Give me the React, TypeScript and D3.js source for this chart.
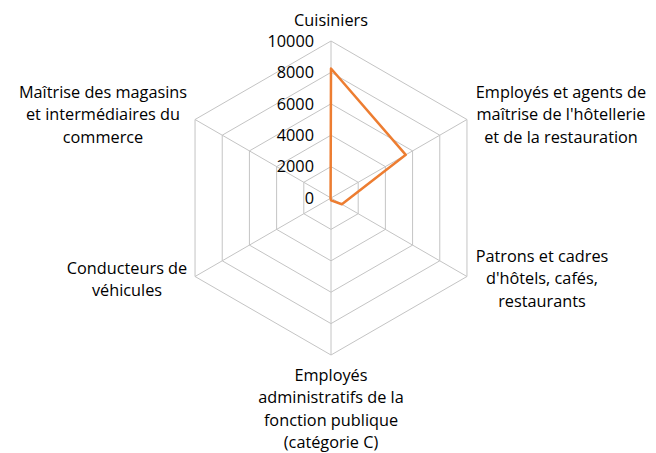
import React from "react";
import * as d3 from "d3";

const categories = [
  ["Cuisiniers"],
  ["Employés et agents de", "maîtrise de l'hôtellerie", "et de la restauration"],
  ["Patrons et cadres", "d'hôtels, cafés,", "restaurants"],
  ["Employés", "administratifs de la", "fonction publique", "(catégorie C)"],
  ["Conducteurs de", "véhicules"],
  ["Maîtrise des magasins", "et intermédiaires du", "commerce"],
];
const values = [8250, 5500, 800, 150, 30, 30];
const ticks = [0, 2000, 4000, 6000, 8000, 10000];

const W = 656, H = 453;
const cx = 331, cy = 198, R = 157;
const font = "'Open Sans', sans-serif";
const fs = 16.3;

// label anchor centers (x, first line center y)
const labelPos: [number, number][] = [
  [331, 20],
  [561, 92],
  [542, 256],
  [331, 375],
  [127, 268],
  [103, 92],
];

export default function App() {
  const r = d3.scaleLinear().domain([0, 10000]).range([0, R]);
  const ang = (i: number) => (-90 + 60 * i) * Math.PI / 180;
  const pt = (i: number, v: number): [number, number] => [
    cx + r(v) * Math.cos(ang(i)),
    cy + r(v) * Math.sin(ang(i)),
  ];
  const line = d3.line<[number, number]>().curve(d3.curveLinearClosed);
  return (
    <svg width={W} height={H} style={{ position: "absolute", left: 0, top: 0 }}>
      <rect width={W} height={H} fill="#fff" />
      {ticks.slice(1).map((t) => (
        <path key={t} d={line(categories.map((_, i) => pt(i, t))) || ""} fill="none" stroke="#c4c4c4" strokeWidth={1} />
      ))}
      {categories.map((_, i) => {
        const [x, y] = pt(i, 10000);
        return <line key={i} x1={cx} y1={cy} x2={x} y2={y} stroke="#c4c4c4" strokeWidth={1} />;
      })}
      <path d={line(values.map((v, i) => pt(i, v))) || ""} fill="none" stroke="#ED7D31" strokeWidth={2.5} strokeLinejoin="round" />
      {ticks.map((t) => (
        <text key={t} x={314} y={cy - r(t)} dy="0.35em" textAnchor="end" fontFamily={font} fontSize={fs} fill="#000">
          {t}
        </text>
      ))}
      {categories.map((lines, i) => (
        <text key={i} textAnchor="middle" fontFamily={font} fontSize={fs} fill="#000">
          {lines.map((l, j) => (
            <tspan key={j} x={labelPos[i][0]} y={labelPos[i][1] + j * 22.5} dy="0.35em">
              {l}
            </tspan>
          ))}
        </text>
      ))}
    </svg>
  );
}
